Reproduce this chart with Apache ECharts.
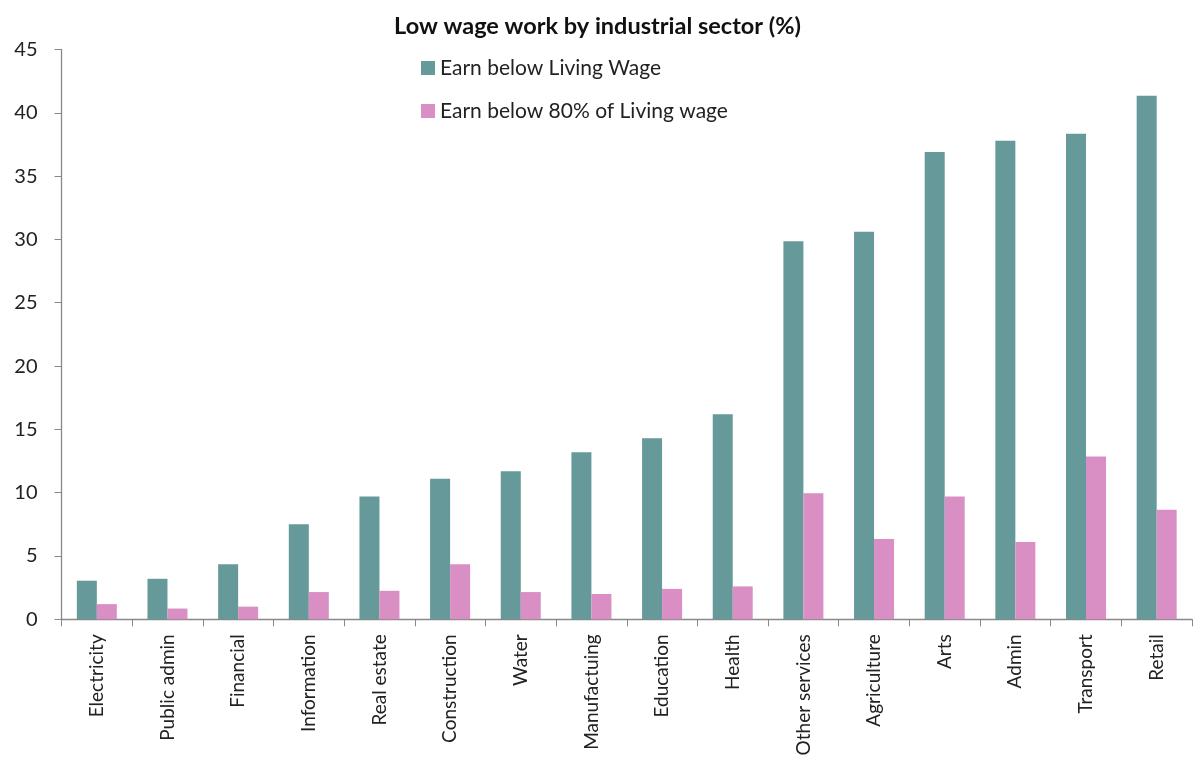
<!DOCTYPE html>
<html>
<head>
<meta charset="utf-8">
<script src="https://cdn.jsdelivr.net/npm/echarts@6/dist/echarts.min.js"></script>
<style>
html,body{margin:0;padding:0;background:#fff;}
#chart{width:1195px;height:760px;}
</style>
</head>
<body>
<div id="chart"></div>
<script>
const titleText = 'Low wage work by industrial sector (%)';
const categories = ['Electricity','Public admin','Financial','Information','Real estate','Construction','Water','Manufactuing','Education','Health','Other services','Agriculture','Arts','Admin','Transport','Retail'];
const seriesNames = ['Earn below Living Wage','Earn below 80% of Living wage'];
const belowLivingWage = [3.05, 3.2, 4.35, 7.5, 9.7, 11.1, 11.7, 13.2, 14.3, 16.2, 29.85, 30.6, 36.9, 37.8, 38.35, 41.35];
const below80LivingWage = [1.2, 0.85, 1.0, 2.15, 2.25, 4.35, 2.15, 2.0, 2.4, 2.6, 9.95, 6.35, 9.7, 6.1, 12.85, 8.65];
const yMin = 0, yMax = 45, yStep = 5;

const chart = echarts.init(document.getElementById('chart'), null, {renderer:'canvas'});
const font = 'Lato, "Liberation Sans", sans-serif';
chart.setOption({
  animation:false,
  backgroundColor:'#ffffff',
  title:{
    text:titleText, left:'center', top:9,
    textStyle:{fontFamily:font, fontSize:23.5, fontWeight:'bold', color:'#111'}
  },
  legend:{
    orient:'vertical', left:416, top:52, itemWidth:14, itemHeight:14, itemGap:21,
    icon:'rect',
    textStyle:{fontFamily:font, fontSize:21, color:'#222', lineHeight:22},
    data:seriesNames
  },
  grid:{left:61.5, right:3, top:49.5, bottom:140.7, containLabel:false},
  xAxis:{
    type:'category', data:categories, boundaryGap:true,
    axisLine:{lineStyle:{color:'#888', width:1.3}},
    axisTick:{show:true, length:7, lineStyle:{color:'#888'}},
    axisLabel:{rotate:90, interval:0, margin:15, fontFamily:font, fontSize:19, color:'#222'}
  },
  yAxis:{
    type:'value', min:yMin, max:yMax, interval:yStep,
    axisLine:{show:true, lineStyle:{color:'#888', width:1.3}},
    axisTick:{show:true, length:7, lineStyle:{color:'#888'}},
    splitLine:{show:false},
    axisLabel:{margin:24, fontFamily:font, fontSize:20, color:'#222'}
  },
  series:[
    {name:seriesNames[0], type:'bar', data:belowLivingWage, barWidth:20, barGap:'0%', itemStyle:{color:'#669999'}},
    {name:seriesNames[1], type:'bar', data:below80LivingWage, barWidth:20, barGap:'0%', itemStyle:{color:'#DA8FC4'}}
  ]
});
</script>
</body>
</html>
